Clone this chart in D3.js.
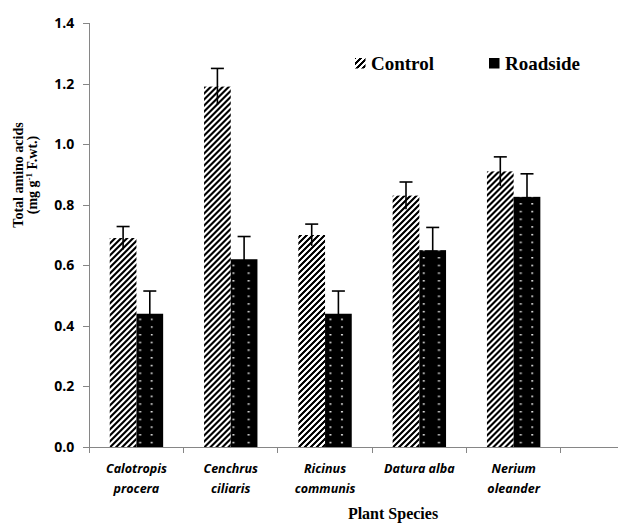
<!DOCTYPE html>
<html>
<head>
  <script src="https://d3js.org/d3.v7.min.js"></script>
  <style>
    body { margin: 0; background: #fff; }
    .axis path, .axis line { stroke: #868686; shape-rendering: crispEdges; }
    .axis text { font-family: "Open Sans", sans-serif; font-weight: bold; font-size: 14px; fill: #000; }
  </style>
</head>
<body>
  <div id="chart"></div>
  <script>
    // data
    const species = ["Calotropis procera", "Cenchrus ciliaris", "Ricinus communis", "Datura alba", "Nerium oleander"];
    const series = ["Control", "Roadside"];
    const control = [0.69, 1.19, 0.70, 0.83, 0.91];
    const controlErr = [0.038, 0.06, 0.036, 0.045, 0.048];
    const roadside = [0.44, 0.62, 0.44, 0.65, 0.826];
    const roadsideErr = [0.075, 0.075, 0.075, 0.075, 0.076];
    const yTicks = [0, 0.2, 0.4, 0.6, 0.8, 1.0, 1.2, 1.4];

    const W = 618, H = 525;
    const svg = d3.select("#chart").append("svg")
      .attr("width", W).attr("height", H);

    // the plot has room for a sixth (empty) category that falls outside the picture
    const slots = species.concat([""]);
    const x0 = d3.scaleBand().domain(slots).range([89.3, 89.3 + 6 * 94.3]).padding(0);
    const x1 = d3.scaleBand().domain(series).range([0, x0.bandwidth()])
      .paddingInner(0).paddingOuter(0.766);
    const y = d3.scaleLinear().domain([0, 1.4]).range([447, 23]);

    const rows = species.map((s, i) => ({
      name: s,
      values: [
        { key: "Control", v: control[i], e: controlErr[i] },
        { key: "Roadside", v: roadside[i], e: roadsideErr[i] }
      ]
    }));

    const defs = svg.append("defs");

    // diagonal hatch for control
    const hatch = defs.append("pattern")
      .attr("id", "hatch")
      .attr("patternUnits", "userSpaceOnUse")
      .attr("width", 6).attr("height", 6);
    hatch.append("rect").attr("width", 6).attr("height", 6).attr("fill", "#fff");
    hatch.append("path")
      .attr("d", "M-1.5,7.5 L7.5,-1.5 M-4.5,4.5 L4.5,-4.5 M1.5,10.5 L10.5,1.5")
      .attr("stroke", "#000").attr("stroke-width", 2.6)
      .attr("shape-rendering", "crispEdges");

    // black with two columns of small white dashes, one pattern per bar
    const bw = x1.bandwidth();
    rows.forEach((r, i) => {
      const px = x0(r.name) + x1("Roadside");
      const p = defs.append("pattern")
        .attr("id", "dots" + i)
        .attr("patternUnits", "userSpaceOnUse")
        .attr("x", px).attr("y", 0)
        .attr("width", bw).attr("height", 7.7);
      p.append("rect").attr("width", bw).attr("height", 7.7).attr("fill", "#000");
      p.append("rect").attr("x", 5).attr("y", 3).attr("width", 2).attr("height", 1.3).attr("fill", "#fff");
      p.append("rect").attr("x", bw - 6.5).attr("y", 3).attr("width", 2).attr("height", 1.3).attr("fill", "#fff");
    });

    // y axis
    svg.append("g")
      .attr("class", "axis")
      .attr("transform", "translate(89.3,0)")
      .call(d3.axisLeft(y).tickValues(yTicks).tickFormat(d3.format(".1f")).tickSize(6).tickPadding(9))
      .call(g => g.select(".domain").attr("d", `M0,${y(1.4)}V${y(0)}`));

    // x axis: line plus ticks at category boundaries
    const xAxis = svg.append("g").attr("class", "axis");
    xAxis.append("line")
      .attr("x1", x0.range()[0]).attr("x2", W)
      .attr("y1", y(0)).attr("y2", y(0));
    xAxis.selectAll(".tk")
      .data(slots)
      .join("line")
      .attr("class", "tk")
      .attr("x1", d => x0(d)).attr("x2", d => x0(d))
      .attr("y1", y(0)).attr("y2", y(0) + 6);

    // bars
    const groups = svg.append("g").selectAll("g")
      .data(rows)
      .join("g")
      .attr("transform", d => `translate(${x0(d.name)},0)`);

    groups.selectAll("rect")
      .data((d, i) => d.values.map(v => ({ ...v, i })))
      .join("rect")
      .attr("x", d => x1(d.key))
      .attr("width", bw)
      .attr("y", d => y(d.v))
      .attr("height", d => y(0) - y(d.v))
      .attr("fill", d => d.key === "Control" ? "url(#hatch)" : `url(#dots${d.i})`);

    // error bars
    const eb = groups.selectAll(".err")
      .data(d => d.values)
      .join("g")
      .attr("class", "err");
    eb.append("line")
      .attr("x1", d => x1(d.key) + bw / 2).attr("x2", d => x1(d.key) + bw / 2)
      .attr("y1", d => y(d.v + d.e)).attr("y2", d => y(d.v - d.e))
      .attr("stroke", "#000").attr("stroke-width", 1.6);
    eb.append("line")
      .attr("x1", d => x1(d.key) + bw / 2 - 6.5).attr("x2", d => x1(d.key) + bw / 2 + 6.5)
      .attr("y1", d => y(d.v + d.e)).attr("y2", d => y(d.v + d.e))
      .attr("stroke", "#000").attr("stroke-width", 1.6);

    // category labels
    svg.append("g").selectAll("text")
      .data(species)
      .join("text")
      .attr("text-anchor", "middle")
      .attr("font-family", "'Open Sans', sans-serif")
      .attr("font-weight", "bold").attr("font-style", "italic")
      .attr("font-size", 12.5)
      .each(function (d) {
        const words = d.split(" ");
        const t = d3.select(this);
        const cx = x0(d) + x0.bandwidth() / 2;
        if (d === "Datura alba") {
          t.append("tspan").attr("x", cx).attr("y", 473).text(d);
        } else {
          t.append("tspan").attr("x", cx).attr("y", 473).text(words[0]);
          t.append("tspan").attr("x", cx).attr("y", 493).text(words[1]);
        }
      });

    // axis titles
    svg.append("text")
      .attr("x", 393).attr("y", 519)
      .attr("text-anchor", "middle")
      .attr("font-family", "'Liberation Serif', serif")
      .attr("font-weight", "bold").attr("font-size", 16)
      .text("Plant Species");

    const yt = svg.append("text")
      .attr("transform", "translate(0,175) rotate(-90)")
      .attr("text-anchor", "middle")
      .attr("font-family", "'Liberation Serif', serif")
      .attr("font-weight", "bold").attr("font-size", 14);
    yt.append("tspan").attr("x", 0).attr("y", 23).text("Total amino acids");
    const l2 = yt.append("tspan").attr("x", 0).attr("y", 37);
    l2.append("tspan").text("(mg g");
    l2.append("tspan").attr("font-size", 9).attr("dy", -5).text("-1");
    l2.append("tspan").attr("dy", 5).text(" F.wt.)");

    // legend
    const legend = svg.append("g").selectAll("g")
      .data(series)
      .join("g")
      .attr("transform", (d, i) => `translate(${[355, 489][i]},58)`);
    legend.append("rect")
      .attr("width", 10.5).attr("height", 10.5)
      .attr("fill", (d, i) => i === 0 ? "url(#hatch)" : "#000");
    legend.append("text")
      .attr("x", 16).attr("y", 12)
      .attr("font-family", "'Liberation Serif', serif")
      .attr("font-weight", "bold").attr("font-size", 19)
      .text(d => d);
  </script>
</body>
</html>
